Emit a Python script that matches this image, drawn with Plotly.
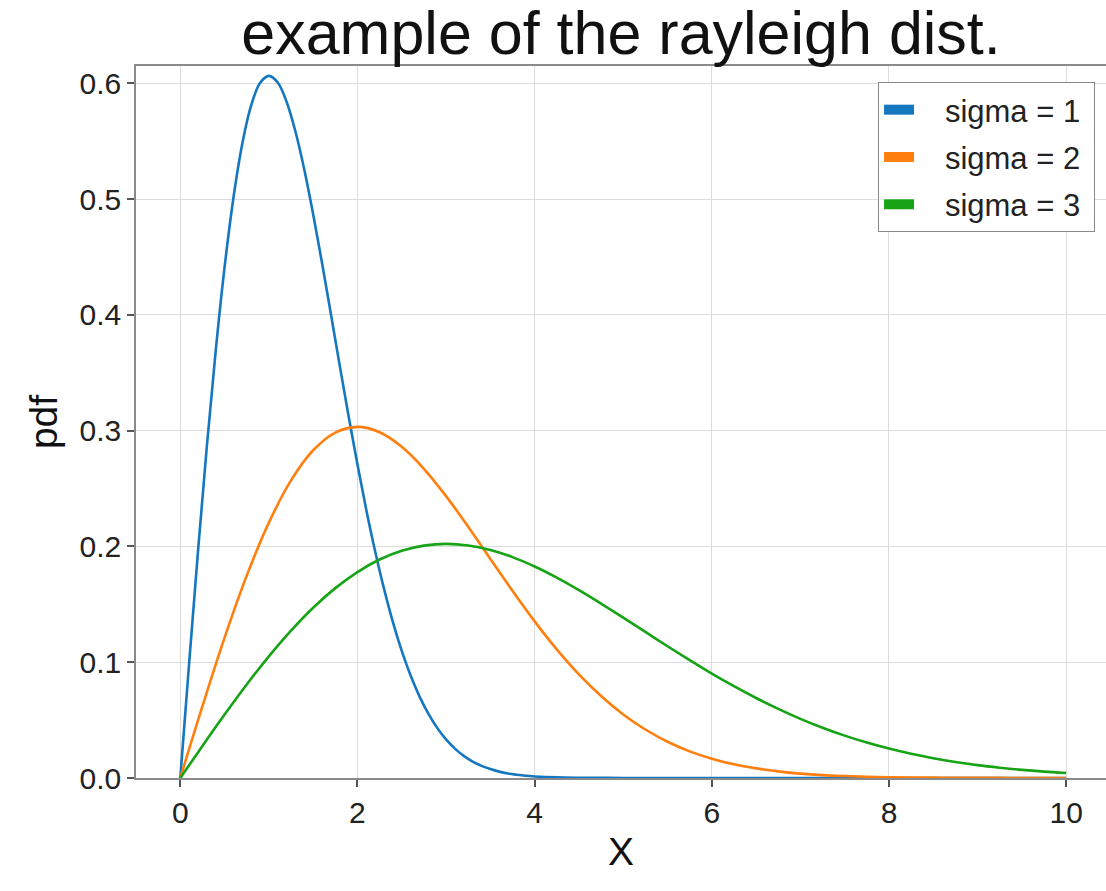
import plotly.graph_objects as go

# x positions (read along the X axis)
x_sigma1 = [0.0, 0.1, 0.2, 0.3, 0.4, 0.5, 0.6, 0.7, 0.8, 0.9, 1.0, 1.1, 1.2, 1.3, 1.4, 1.5, 1.6, 1.7,
            1.8, 1.9, 2.0, 2.1, 2.2, 2.3, 2.4, 2.5, 2.6, 2.7, 2.8, 2.9, 3.0, 3.1, 3.2, 3.3, 3.4, 3.5,
            3.6, 3.7, 3.8, 3.9, 4.0, 4.25, 4.5, 4.75, 5.0, 6.0, 7.0, 8.0, 9.0, 10.0]
x_vals = [0.0, 0.25, 0.5, 0.75, 1.0, 1.25, 1.5, 1.75, 2.0, 2.25, 2.5, 2.75, 3.0, 3.25, 3.5, 3.75,
          4.0, 4.25, 4.5, 4.75, 5.0, 5.25, 5.5, 5.75, 6.0, 6.25, 6.5, 6.75, 7.0, 7.25, 7.5, 7.75,
          8.0, 8.25, 8.5, 8.75, 9.0, 9.25, 9.5, 9.75, 10.0]

# pdf values
pdf_sigma1 = [0.0, 0.0995, 0.1960, 0.2868, 0.3692, 0.4412, 0.5012, 0.5479, 0.5809, 0.6003, 0.6065,
              0.6007, 0.5841, 0.5584, 0.5254, 0.4870, 0.4449, 0.4008, 0.3562, 0.3125, 0.2707, 0.2315,
              0.1956, 0.1633, 0.1347, 0.1098, 0.0885, 0.0705, 0.0556, 0.0433, 0.0333, 0.0254, 0.0191,
              0.0142, 0.0105, 0.0077, 0.0055, 0.0039, 0.0028, 0.0019, 0.0013, 0.0005, 0.0002, 0.0001,
              0.0, 0.0, 0.0, 0.0, 0.0, 0.0]
pdf_sigma2 = [0.0, 0.0620, 0.1212, 0.1748, 0.2206, 0.2571, 0.2831, 0.2984, 0.3033, 0.2987, 0.2861,
              0.2671, 0.2435, 0.2170, 0.1892, 0.1617, 0.1353, 0.1111, 0.0895, 0.0708, 0.0549, 0.0419,
              0.0313, 0.0230, 0.0167, 0.0118, 0.0083, 0.0057, 0.0038, 0.0025, 0.0017, 0.0011, 0.0007,
              0.0004, 0.0003, 0.0002, 0.0001, 0.0001, 0.0, 0.0, 0.0]
pdf_sigma3 = [0.0, 0.0277, 0.0548, 0.0808, 0.1051, 0.1273, 0.1471, 0.1640, 0.1779, 0.1887, 0.1963,
              0.2007, 0.2022, 0.2008, 0.1969, 0.1908, 0.1827, 0.1731, 0.1623, 0.1507, 0.1385, 0.1262,
              0.1138, 0.1018, 0.0902, 0.0793, 0.0691, 0.0597, 0.0511, 0.0434, 0.0366, 0.0306, 0.0254,
              0.0209, 0.0171, 0.0138, 0.0111, 0.0089, 0.0070, 0.0055, 0.0043]

series_names = ["sigma = 1", "sigma = 2", "sigma = 3"]
series_x = [x_sigma1, x_vals, x_vals]
series_values = [pdf_sigma1, pdf_sigma2, pdf_sigma3]
colors = ["#1577c0", "#ff7f0e", "#16a316"]

x_ticks = [0, 2, 4, 6, 8, 10]
y_ticks = [0.0, 0.1, 0.2, 0.3, 0.4, 0.5, 0.6]

FONT = "Liberation Sans, Arial, Helvetica, sans-serif"

fig = go.Figure()
for name, xs, vals, col in zip(series_names, series_x, series_values, colors):
    fig.add_trace(go.Scatter(x=xs, y=vals, mode="lines", name=name,
                             line=dict(color=col, width=2.6, shape="spline", smoothing=1.0),
                             showlegend=False))
# legend patches
for i, (name, col) in enumerate(zip(series_names, colors)):
    fig.add_trace(go.Scatter(x=[None], y=[None], mode="lines",
                             name="\u00a0\u00a0\u00a0" + name + "\u00a0",
                             legendgroup="g%d" % i,
                             line=dict(color=col, width=12)))

axis_common = dict(
    showline=True, linecolor="#8a8a8a", linewidth=1.5,
    showgrid=True, gridcolor="#dcdcdc", gridwidth=1,
    ticks="outside", ticklen=7, tickwidth=1.5, tickcolor="#555555",
    tickfont=dict(family=FONT, size=30, color="#222222"),
    zeroline=False,
)

fig.update_layout(
    width=1106, height=891,
    margin=dict(l=136, r=0, t=66, b=113),
    paper_bgcolor="white", plot_bgcolor="white",
    font=dict(family=FONT, color="#111111"),
    title=dict(text="example of the rayleigh dist.", x=0.5, xref="paper",
               y=1 - 33 / 891, yref="container", yanchor="middle", xanchor="center",
               font=dict(family=FONT, size=61, color="#111111")),
    xaxis=dict(range=[-0.5, 10.45], tickvals=x_ticks, mirror=True,
               title=dict(text="X", font=dict(family=FONT, size=39, color="#111111"), standoff=10),
               **axis_common),
    yaxis=dict(range=[0, 0.615], tickvals=y_ticks, tickformat=".1f",
               title=dict(text="pdf", font=dict(family=FONT, size=39, color="#111111"), standoff=10),
               **axis_common),
    legend=dict(x=0.9887, y=0.9775, xanchor="right", yanchor="top",
                bgcolor="white", bordercolor="#8a8a8a", borderwidth=1,
                font=dict(family=FONT, size=31, color="#222222"),
                tracegroupgap=4),
)

fig.write_html("out.html")
